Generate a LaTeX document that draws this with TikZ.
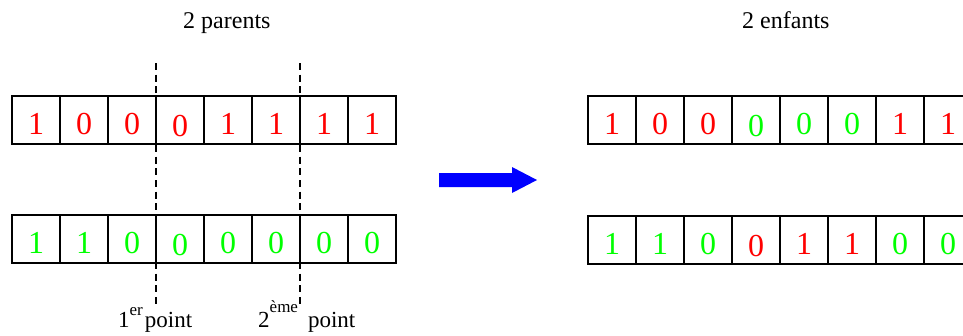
\documentclass[tikz,border=0pt]{standalone}
\usepackage{fontspec}
\setmainfont{Liberation Serif}
\usetikzlibrary{calc}
\definecolor{bitred}{RGB}{255,0,0}
\definecolor{bitgreen}{RGB}{0,255,0}
\definecolor{arrowblue}{RGB}{0,0,255}
\begin{document}
\begin{tikzpicture}[x=1pt,y=-1pt,
  cell/.style={draw=black,line width=1.5pt,minimum width=48pt,minimum height=48pt,inner sep=0pt,outer sep=0pt},
  bit/.style={anchor=base,inner sep=0pt,font=\fontsize{32}{32}\selectfont},
  title/.style={anchor=base west,inner sep=0pt,font=\fontsize{24}{24}\selectfont},
  pointlabel/.style={anchor=base west,inner sep=0pt,font=\fontsize{23}{23}\selectfont},
  cut/.style={draw=black,line width=1.8pt,dash pattern=on 7pt off 4.7pt},
  bigarrow/.style={fill=arrowblue}]
\useasboundingbox (0,0) rectangle (963,335);
\clip (0,0) rectangle (963,335);
\fill[white] (0,0) rectangle (963,335);

% titles
\node[title] (t1) at (183,28) {2 parents};
\node[title] (t2) at (742,28) {2 enfants};

% cells
\foreach \i in {1,...,8} {
  \node[cell] (p1c\i) at ({12+48*\i-24},120) {};
  \node[cell] (p2c\i) at ({12+48*\i-24},239.2) {};
  \node[cell] (c1c\i) at ({588+48*\i-24},120) {};
  \node[cell] (c2c\i) at ({588+48*\i-24},240) {};
}

% parent 1
\foreach \i/\d/\c/\s in {1/1/bitred/14,2/0/bitred/14,3/0/bitred/14,4/0/bitred/16.5,5/1/bitred/14,6/1/bitred/14,7/1/bitred/14,8/1/bitred/14}
  \node[bit,text=\c] (p1d\i) at ($(p1c\i.center)+(0,\s)$) {\d};
% parent 2
\foreach \i/\d/\c/\s in {1/1/bitgreen/14,2/1/bitgreen/14,3/0/bitgreen/14,4/0/bitgreen/16.5,5/0/bitgreen/14,6/0/bitgreen/14,7/0/bitgreen/14,8/0/bitgreen/14}
  \node[bit,text=\c] (p2d\i) at ($(p2c\i.center)+(0,\s)$) {\d};
% child 1
\foreach \i/\d/\c/\s in {1/1/bitred/14,2/0/bitred/14,3/0/bitred/14,4/0/bitgreen/16.5,5/0/bitgreen/14,6/0/bitgreen/14,7/1/bitred/14,8/1/bitred/14}
  \node[bit,text=\c] (c1d\i) at ($(c1c\i.center)+(0,\s)$) {\d};
% child 2
\foreach \i/\d/\c/\s in {1/1/bitgreen/14,2/1/bitgreen/14,3/0/bitgreen/14,4/0/bitred/16.5,5/1/bitred/14,6/1/bitred/14,7/0/bitgreen/14,8/0/bitgreen/14}
  \node[bit,text=\c] (c2d\i) at ($(c2c\i.center)+(0,\s)$) {\d};

% crossover points
\coordinate (cut1top) at (156,63);
\coordinate (cut1bot) at (156,305);
\coordinate (cut2top) at (300,63);
\coordinate (cut2bot) at (300,307);
\draw[cut] (cut1top) -- (cut1bot);
\draw[cut] (cut2top) -- (cut2bot);

\node[pointlabel] (l1) at (118,327) {1\raisebox{12pt}{\fontsize{17}{17}\selectfont er}\hspace{2pt}point};
\node[pointlabel] (l2) at (258,327) {2\raisebox{15pt}{\fontsize{17}{17}\selectfont ème}\hspace{10pt}point};

% big blue arrow
\fill[bigarrow] (439,173) -- (512,173) -- (512,167) -- (537,180) -- (512,193) -- (512,187) -- (439,187) -- cycle;
\end{tikzpicture}
\end{document}
